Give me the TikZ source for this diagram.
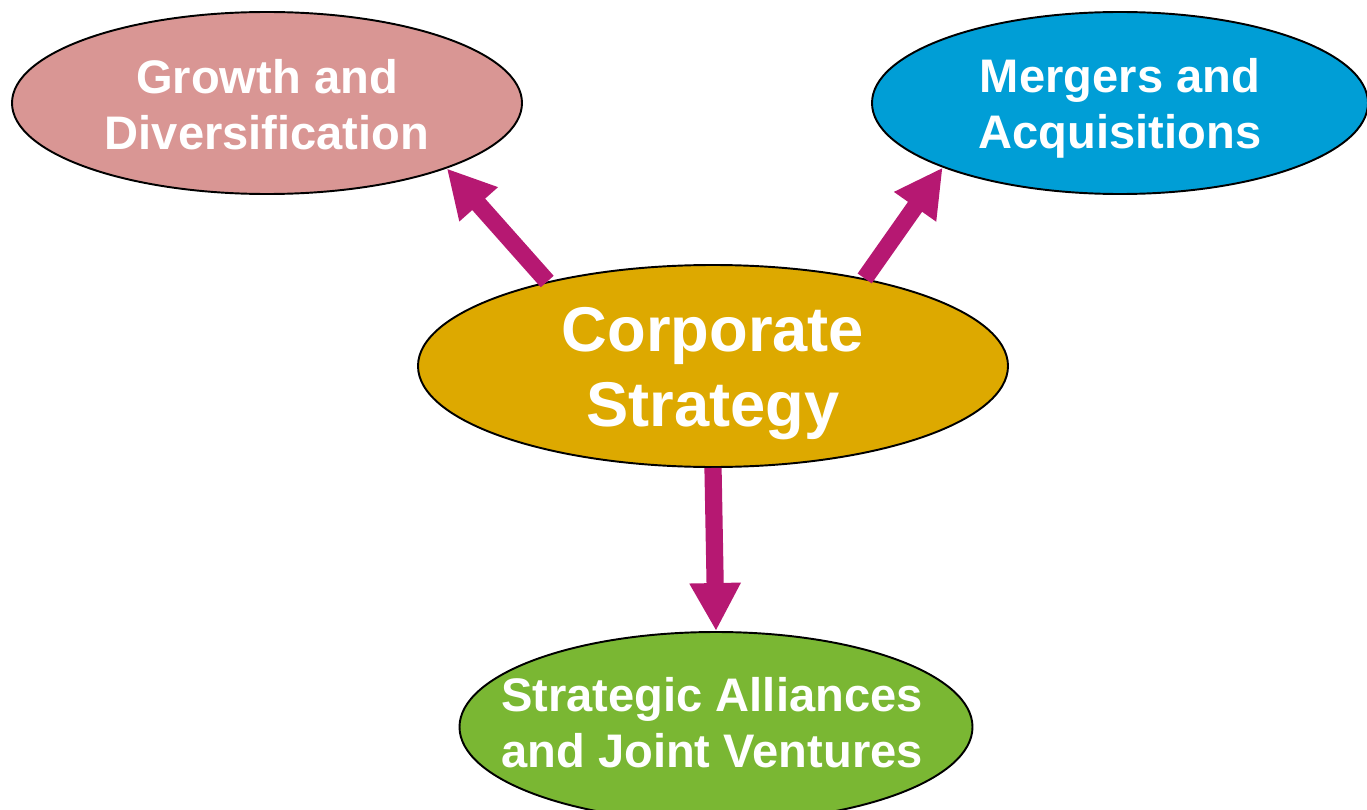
\documentclass[tikz,border=0pt]{standalone}
\usepackage{fontspec}
\setmainfont{Liberation Sans}
\usetikzlibrary{arrows.meta,shapes.geometric}
\definecolor{rosy}{RGB}{217,150,148}
\definecolor{skyblue}{RGB}{0,158,214}
\definecolor{gold}{RGB}{221,169,0}
\definecolor{leaf}{RGB}{122,183,51}
\definecolor{plum}{RGB}{182,24,114}
\tikzset{topic/.style = {shape=ellipse,draw=black,line width=1.1pt,inner sep=0pt},
  word/.style = {text=white,align=center,inner sep=0pt,font=\bfseries\fontsize{26.8}{32}\selectfont},
  bigword/.style = {word,font=\bfseries\fontsize{36}{42.5}\selectfont},
  push/.style = {draw=plum,line width=9.8pt,-{Triangle[width=0.96cm,length=0.96cm]}}}
\begin{document}
\begin{tikzpicture}
\useasboundingbox (0,0) rectangle (27.34,16.18);
% vertices
\node[topic,fill=gold,minimum width=11.8cm,minimum height=4.04cm] (corp) at (14.26,8.86) {};
\node[topic,fill=rosy,minimum width=10.2cm,minimum height=3.64cm] (growth) at (5.34,14.12) {};
\node[topic,fill=skyblue,minimum width=9.92cm,minimum height=3.64cm] (merge) at (22.40,14.12) {};
\node[topic,fill=leaf,minimum width=10.26cm,minimum height=3.8cm] (ally) at (14.32,1.64) {};
% texts
\node[bigword] (corp-t) at ([yshift=-0.15cm]corp.center) {Corporate\\Strategy};
\node[word] (growth-t) at ([yshift=-0.03cm]growth.center) {Growth and\\Diversification};
\node[word] (merge-t) at ([yshift=-0.11cm]merge.center) {Mergers and\\Acquisitions};
\node[word] (ally-t) at ([xshift=-0.08cm,yshift=0.08cm]ally.center) {Strategic Alliances\\and Joint Ventures};
%edges
\draw[push] (corp.153) --(growth.340.1) ;
\draw[push] (corp.30.6) --(merge.200.6) ;
\draw[push] (corp.south) --(ally.north) ;
\end{tikzpicture}
\end{document}
